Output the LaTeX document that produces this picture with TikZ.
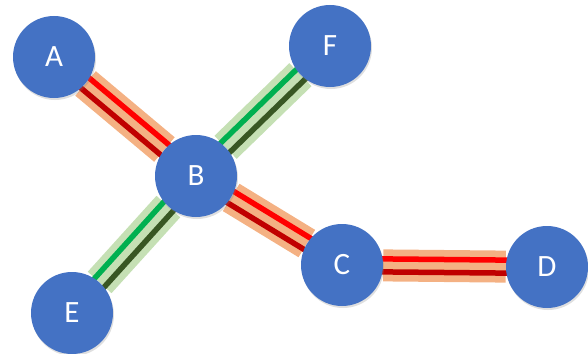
\documentclass[tikz,border=0pt]{standalone}
\usepackage{fontspec}
\setmainfont{Carlito}
\usetikzlibrary{calc,backgrounds,shadows}
\definecolor{nodeblue}{HTML}{4472C4}
\definecolor{bandorange}{HTML}{F4B183}
\definecolor{brightred}{HTML}{FF0000}
\definecolor{darkred}{HTML}{C00000}
\definecolor{bandgreen}{HTML}{C5E0B4}
\definecolor{brightgreen}{HTML}{00B050}
\definecolor{darkgreen}{HTML}{385723}
\tikzset{
  vertex/.style={circle, fill=nodeblue, draw=none, minimum size=82pt, inner sep=0pt,
    text=white, font=\fontsize{31}{31}\selectfont,
    drop shadow={opacity=0.25, shadow xshift=1pt, shadow yshift=-2pt}},
  band/.style={line width=32pt},
  thinline/.style={line width=5.5pt},
}
\newcommand{\tripleedge}[5]{%
  \draw[band, #3] (#1) -- (#2);
  \draw[thinline, #4] ($(#1)!6.5pt!90:(#2)$) -- ($(#2)!6.5pt!-90:(#1)$);
  \draw[thinline, #5] ($(#1)!6.5pt!-90:(#2)$) -- ($(#2)!6.5pt!90:(#1)$);
}
\begin{document}
\begin{tikzpicture}[x=1pt,y=-1pt]
\useasboundingbox (0,0) rectangle (588,353);
\node[vertex] (A) at (54,57) {A};
\node[vertex] (F) at (330,46) {F};
\node[vertex] (B) at (196,176) {B};
\node[vertex] (C) at (342,265) {C};
\node[vertex] (D) at (547,267) {D};
\node[vertex] (E) at (72,313) {E};
\begin{pgfonlayer}{background}
\tripleedge{A}{B}{bandorange}{brightred}{darkred}
\tripleedge{B}{C}{bandorange}{brightred}{darkred}
\tripleedge{C}{D}{bandorange}{brightred}{darkred}
\tripleedge{E}{B}{bandgreen}{brightgreen}{darkgreen}
\tripleedge{B}{F}{bandgreen}{brightgreen}{darkgreen}
\end{pgfonlayer}
\end{tikzpicture}
\end{document}
